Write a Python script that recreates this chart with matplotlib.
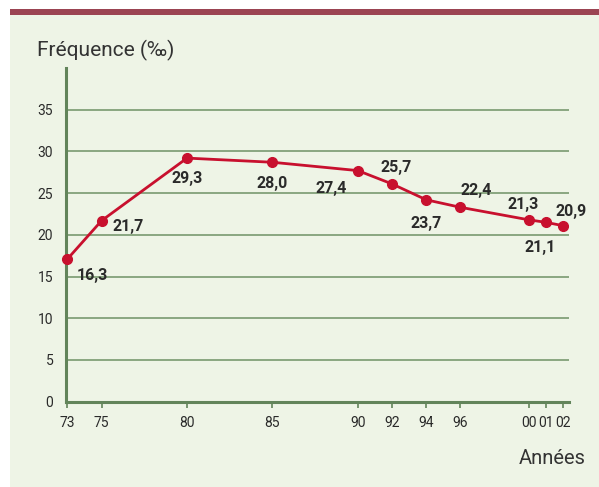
import matplotlib
matplotlib.use('Agg')
import matplotlib.pyplot as plt
from matplotlib.patches import Rectangle

# Data
years = [1973, 1975, 1980, 1985, 1990, 1992, 1994, 1996, 2000, 2001, 2002]
year_labels = ['73', '75', '80', '85', '90', '92', '94', '96', '00', '01', '02']
freq = [17.1, 21.7, 29.2, 28.7, 27.7, 26.1, 24.2, 23.3, 21.8, 21.5, 21.1]
value_labels = ['16,3', '21,7', '29,3', '28,0', '27,4', '25,7', '23,7', '22,4', '21,3', '21,1', '20,9']
# label offsets in points (dx, dy) and alignment
label_pos = [(7, -12, 'left'), (8, -4, 'left'), (0, -15, 'center'), (0, -15, 'center'),
             (-8, -13, 'right'), (3, 12, 'center'), (0, -17, 'center'), (11, 12, 'center'),
             (-4, 11, 'center'), (-4, -18, 'center'), (6, 10, 'center')]
yticks = [0, 5, 10, 15, 20, 25, 30, 35]

bg = '#eef4e6'
green = '#62845a'
grid_green = '#6f9166'
red = '#c8102e'
text_col = '#2a2a2a'
font = ['Roboto', 'DejaVu Sans']

W, H = 599, 487
fig = plt.figure(figsize=(W / 100, H / 100), dpi=100)
fig.patch.set_facecolor('white')
fig.patches.append(Rectangle((10 / W, 0), 1, 1 - 15 / H, transform=fig.transFigure,
                             facecolor=bg, edgecolor='none', zorder=-2))
fig.patches.append(Rectangle((10 / W, 1 - 15 / H), 1, 6 / H, transform=fig.transFigure,
                             facecolor='#9b4452', edgecolor='none', zorder=-2))

ax = fig.add_axes([65.7 / W, 1 - 401.7 / H, (569 - 65.7) / W, (401.7 - 68) / H])
ax.set_facecolor('none')
ax.set_xlim(1972.9, 2002.35)
ax.set_ylim(0, 40)

for t in yticks[1:]:
    ax.axhline(t, color=grid_green, lw=1.1, zorder=1)

ax.plot(years, freq, color=red, lw=2, marker='o', ms=7, zorder=3, clip_on=False)

for x, y, lab, (dx, dy, ha) in zip(years, freq, value_labels, label_pos):
    ax.annotate(lab, (x, y), xytext=(dx, dy), textcoords='offset points', ha=ha, va='center',
                fontsize=11.5, fontweight='bold', color=text_col, family=font)

for s in ['top', 'right']:
    ax.spines[s].set_visible(False)
for s in ['left', 'bottom']:
    ax.spines[s].set_color(green)
    ax.spines[s].set_linewidth(2.2)
ax.spines['left'].set_bounds(0, 40)

ax.set_xticks(years)
ax.set_xticklabels(year_labels)
ax.set_yticks(yticks)
ax.tick_params(axis='x', length=4, width=1.2, color=green, labelsize=10, labelcolor=text_col, pad=6)
ax.tick_params(axis='y', length=0, labelsize=10, labelcolor=text_col, pad=9)
for lbl in ax.get_xticklabels() + ax.get_yticklabels():
    lbl.set_family(font)

fig.text(37 / W, 1 - 50 / H, 'Fréquence (‰)', fontsize=15, color='#333333', va='center', ha='left',
         family=font)
fig.text(586 / W, 1 - 458 / H, 'Années', fontsize=14.5, color='#333333', va='center', ha='right',
         family=font)

fig.savefig('out.png', dpi=100, facecolor=fig.get_facecolor())
